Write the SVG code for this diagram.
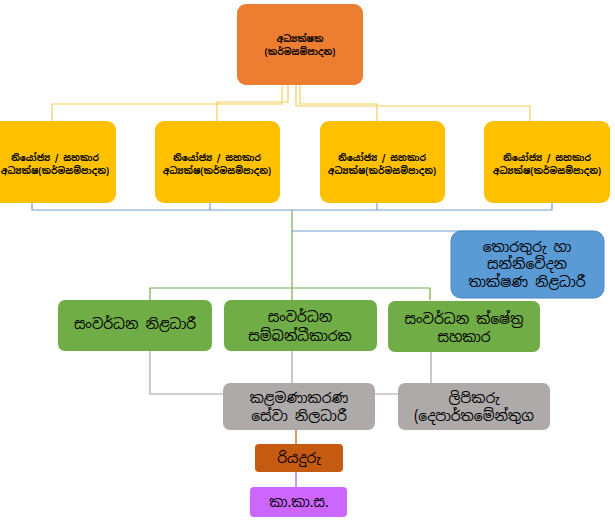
<svg xmlns="http://www.w3.org/2000/svg" width="615" height="521" viewBox="0 0 615 521">
<style>
text{font-family:"Noto Sans Sinhala","Noto Sans","DejaVu Sans",sans-serif;text-anchor:middle;fill:#000}
.s{font-size:9px;font-weight:bold}
.m{font-size:14px}
.c line,.c polyline{fill:none;stroke-width:1.2}
</style>
<rect width="615" height="521" fill="#fff"/>
<g class="c">
<polyline points="282,85 282,104 52,104 52,121" stroke="#f2cf5b"/>
<polyline points="288,85 288,102 217,102 217,121" stroke="#f2cf5b"/>
<polyline points="300,85 300,104 377,104 377,121" stroke="#f2cf5b"/>
<polyline points="296,85 296,106 530,106 530,121" stroke="#f2cf5b"/>
<polyline points="32,190 32,210 552,210 552,190" stroke="#6f9fcf"/>
<line x1="210" y1="190" x2="210" y2="210" stroke="#6f9fcf"/>
<line x1="377" y1="190" x2="377" y2="210" stroke="#6f9fcf"/>
<line x1="292" y1="210" x2="292" y2="300" stroke="#7aab4a"/>
<polyline points="292,231 535,231" stroke="#6f9fcf"/>
<polyline points="150,300 150,288 430,288 430,300" stroke="#7aab4a"/>
<polyline points="150,351 150,394 431,394 431,351" stroke="#a6a6a6"/>
<line x1="292" y1="351" x2="292" y2="383" stroke="#a6a6a6"/>
<line x1="419" y1="394" x2="419" y2="383" stroke="#a6a6a6"/>
<line x1="296" y1="430" x2="296" y2="444" stroke="#c55a11"/>
<line x1="296" y1="472" x2="296" y2="487" stroke="#b455d8"/>
</g>
<g id="director"><rect x="237" y="4" width="126" height="81" rx="9" fill="#ed7d31"/>
<text class="s" x="300" y="42">අධ්‍යක්ෂක</text><text class="s" x="300" y="55">(කර්මසම්පාදන)</text></g>
<g id="d1"><rect x="-10" y="121" width="126" height="82" rx="9" fill="#ffc000"/>
<text class="s" x="55" y="161">නියෝජ්‍ය / සහකාර</text><text class="s" x="55" y="174">අධ්‍යක්ෂ(කර්මසම්පාදන)</text></g>
<g id="d2"><rect x="155" y="121" width="125" height="82" rx="9" fill="#ffc000"/>
<text class="s" x="217" y="161">නියෝජ්‍ය / සහකාර</text><text class="s" x="217" y="174">අධ්‍යක්ෂ(කර්මසම්පාදන)</text></g>
<g id="d3"><rect x="320" y="121" width="125" height="82" rx="9" fill="#ffc000"/>
<text class="s" x="382" y="161">නියෝජ්‍ය / සහකාර</text><text class="s" x="382" y="174">අධ්‍යක්ෂ(කර්මසම්පාදන)</text></g>
<g id="d4"><rect x="484" y="121" width="126" height="82" rx="9" fill="#ffc000"/>
<text class="s" x="547" y="161">නියෝජ්‍ය / සහකාර</text><text class="s" x="547" y="174">අධ්‍යක්ෂ(කර්මසම්පාදන)</text></g>
<g id="ict"><rect x="451" y="231" width="153" height="67" rx="10" fill="#5b9bd5" stroke="#4a86c0"/>
<text class="m" x="527" y="252">තොරතුරු හා</text><text class="m" x="527" y="269">සන්නිවේදන</text><text class="m" x="527" y="287">තාක්ෂණ නිළධාරී</text></g>
<g id="g1"><rect x="58" y="300" width="154" height="51" rx="7" fill="#70ad47"/>
<text class="m" x="135" y="329">සංවර්ධන නිළධාරී</text></g>
<g id="g2"><rect x="224" y="300" width="153" height="51" rx="7" fill="#70ad47"/>
<text class="m" x="300" y="322">සංවර්ධන</text><text class="m" x="300" y="341">සම්බන්ධීකාරක</text></g>
<g id="g3"><rect x="388" y="301" width="152" height="51" rx="7" fill="#70ad47"/>
<text class="m" x="464" y="324">සංවර්ධන ක්ෂේත්‍ර</text><text class="m" x="464" y="342">සහකාර</text></g>
<g id="mgmt"><rect x="223" y="383" width="152" height="47" rx="7" fill="#aeaaaa"/>
<text class="m" x="299" y="403">කළමණාකරණ</text><text class="m" x="299" y="421">සේවා නිලධාරී</text></g>
<g id="clerk"><rect x="398" y="383" width="152" height="47" rx="7" fill="#aeaaaa"/>
<text class="m" x="474" y="403">ලිපිකරු</text><text class="m" x="474" y="421">(දෙපාර්තමේන්තුග</text></g>
<g id="driver"><rect x="255" y="444" width="88" height="28" rx="4" fill="#c55a11"/>
<text class="m" x="299" y="463">රියදුරු</text></g>
<g id="kks"><rect x="250" y="487" width="97" height="30" rx="4" fill="#cc66ff"/>
<text class="m" x="299" y="507">කා.කා.ස.</text></g>
</svg>
